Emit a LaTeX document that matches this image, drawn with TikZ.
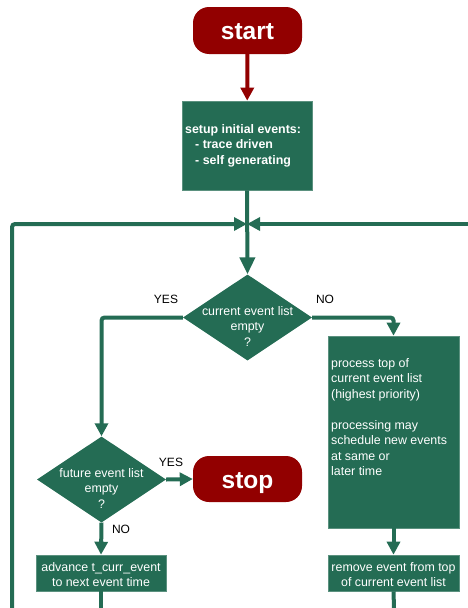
\documentclass[tikz,border=0pt]{standalone}
\usepackage{fontspec}
\setmainfont{Liberation Sans}
\usetikzlibrary{shapes.geometric,arrows.meta}
\definecolor{flowgreen}{RGB}{36,108,84}
\definecolor{flowred}{RGB}{146,0,0}
\begin{document}
\begin{tikzpicture}[x=1pt,y=-1pt,
  txt/.style={font=\fontsize{12.4}{15.5}\selectfont, text=white, inner sep=0},
  proc/.style={fill=flowgreen, draw=flowgreen!75!white, line width=0.6pt, inner sep=0},
  term/.style={fill=flowred, rounded corners=16pt, minimum width=109pt, minimum height=47pt,
    text=white, font=\bfseries\fontsize{24.5}{28}\selectfont, inner sep=0,
    text height=18pt, text depth=0pt},
  dec/.style={diamond, fill=flowgreen, inner sep=0, aspect=1.5,
    minimum width=129pt, minimum height=86pt},
  flow/.style={draw=flowgreen, line width=4pt},
  tip/.style={-{Triangle[length=13pt,width=13pt]}},
  bigtip/.style={-{Triangle[length=17pt,width=15pt]}},
  lbl/.style={font=\fontsize{12}{14}\selectfont, inner sep=0}
]
\useasboundingbox (0,0) rectangle (468,608);

% terminals
\node[term] (start) at (247.5,30.5) {start};
\node[term, minimum height=46pt] (stop) at (247.5,479) {stop};

% process boxes
\node[proc, minimum width=130pt, minimum height=89pt] (setup) at (247,145.5) {};
\node[txt, font=\bfseries\fontsize{12.4}{15.5}\selectfont, align=left, anchor=west]
  (setuptext) at (185,145.5)
  {setup initial events:\\\hspace{10pt}- trace driven\\\hspace{10pt}- self generating};

\node[proc, minimum width=131pt, minimum height=192pt] (proc) at (393.5,432) {};
\node[txt, align=left, anchor=north west] (proctext) at (331,358)
  {process top of\\current event list\\(highest priority)\\[15.5pt]processing may\\schedule new events\\at same or\\later time};

\node[proc, minimum width=130pt, minimum height=36pt] (adv) at (101,573) {};
\node[txt, align=center] (advtext) at (101,574.5) {advance t\_curr\_event\\to next event time};

\node[proc, minimum width=131pt, minimum height=36pt] (rem) at (393.5,573) {};
\node[txt, align=center] (remtext) at (393.5,574.5) {remove event from top\\of current event list};

% decisions
\node[dec] (d1) at (247.5,317.5) {};
\node[txt, align=center] (d1text) at (247.5,326.5) {current event list\\empty\\?};
\node[dec] (d2) at (101.5,479.5) {};
\node[txt, align=center] (d2text) at (101.5,488.5) {future event list\\empty\\?};

% branch labels
\node[lbl] (yes1) at (166,299) {YES};
\node[lbl] (no1) at (325,299) {NO};
\node[lbl] (yes2) at (171,462) {YES};
\node[lbl] (no2) at (121,529) {NO};

% loop points
\coordinate (m) at (247,224);
\coordinate (loopL) at (12,608);
\coordinate (loopR) at (468,224);
\coordinate (advout) at (101,608);
\coordinate (remout) at (394,608);

% connectors
\draw[draw=flowred, line width=4pt, -{Triangle[length=13pt,width=13pt]}] (start) -- (setup);
\draw[flow, bigtip] (setup.south) -- (d1.north);
\draw[flow, tip, rounded corners=3pt] (loopL) -- (12,224) -- (m);
\draw[flow, tip] (loopR) -- (m);
\draw[flow, tip, rounded corners=3pt] (d1.west) -| (d2.north);
\draw[flow, tip, rounded corners=3pt] (d1.east) -| (proc.north);
\draw[flow, tip] (d2.east) -- (stop.west);
\draw[flow, tip] (d2.south) -- (adv.north);
\draw[flow, tip] (proc.south) -- (rem.north);
\draw[flow] (adv.south) -- (advout);
\draw[flow] (rem.south) -- (remout);
\end{tikzpicture}
\end{document}
